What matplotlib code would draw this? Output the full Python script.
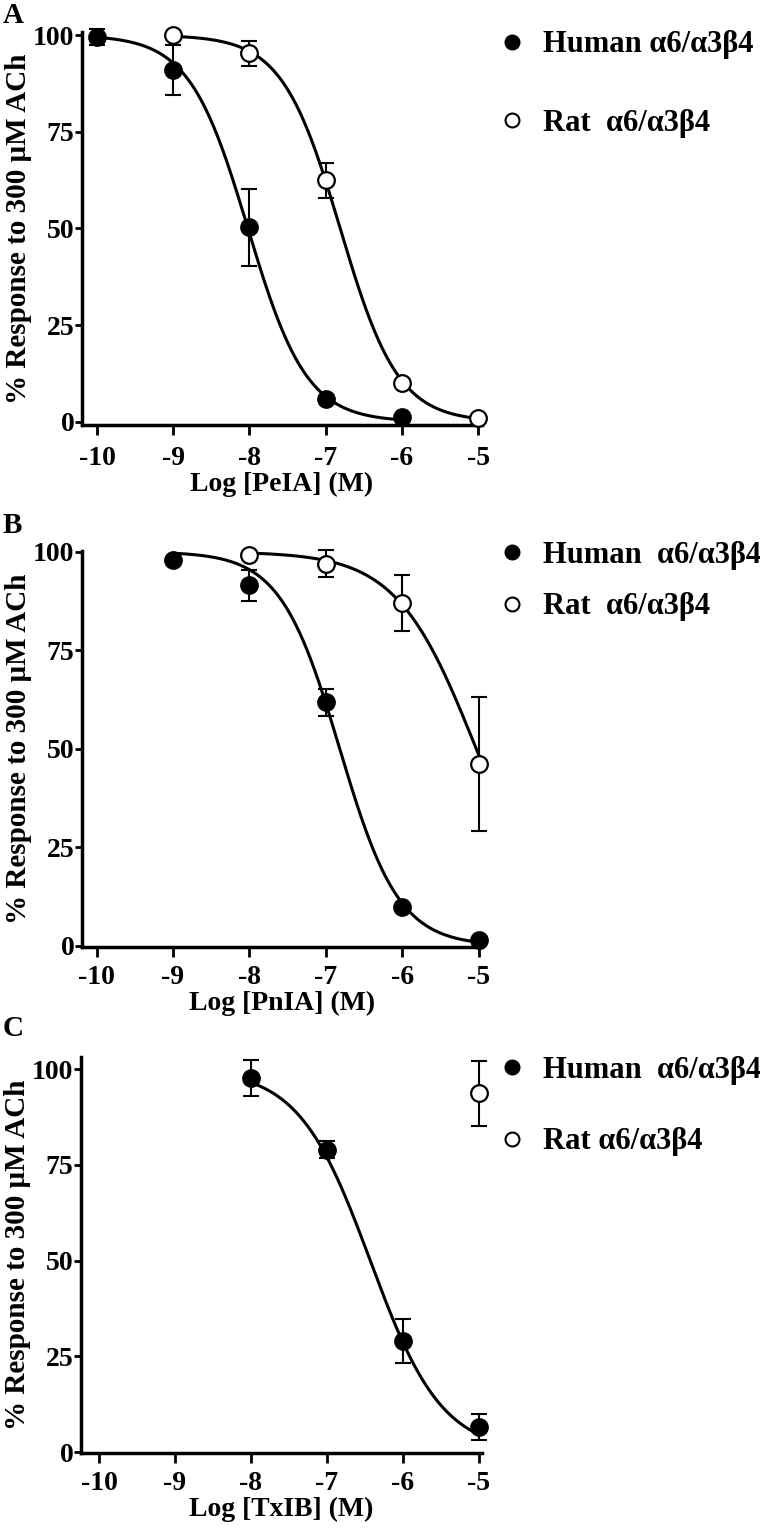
import numpy as np
import matplotlib
matplotlib.use('Agg')
import matplotlib.pyplot as plt
from matplotlib.lines import Line2D

plt.rcParams['font.family'] = ['Liberation Serif', 'DejaVu Serif']
plt.rcParams['font.weight'] = 'bold'
plt.rcParams['font.size'] = 20
plt.rcParams['axes.unicode_minus'] = False

# Panel A - PeIA
a_human_x = [-10, -9, -8, -7, -6]
a_human_y = [99.5, 91.0, 50.3, 6.0, 1.2]
a_human_err = [2.0, 6.5, 10.0, 0.0, 0.0]
a_rat_x = [-9, -8, -7, -6, -5]
a_rat_y = [100.0, 95.3, 62.5, 10.0, 1.0]
a_rat_err = [0.0, 3.3, 4.5, 0.0, 0.0]
a_fit = {'human': (-8.02, 1.13), 'rat': (-6.81, 1.14)}  # logIC50, Hill slope

# Panel B - PnIA
b_human_x = [-9, -8, -7, -6, -5]
b_human_y = [98.0, 91.5, 61.8, 9.8, 1.5]
b_human_err = [0.0, 4.0, 3.4, 0.0, 0.0]
b_rat_x = [-8, -7, -6, -5]
b_rat_y = [99.3, 97.0, 87.0, 46.2]
b_rat_err = [0.0, 3.4, 7.0, 17.0]
b_fit = {'human': (-6.82, 1.12), 'rat': (-5.035, 0.836)}

# Panel C - TxIB
c_human_x = [-8, -7, -6, -5]
c_human_y = [97.8, 79.0, 29.0, 6.5]
c_human_err = [4.7, 2.3, 5.8, 3.4]
c_rat_x = [-5]
c_rat_y = [93.7]
c_rat_err = [8.5]
c_fit = {'human': (-6.43, 0.92)}

panels = [
    dict(tag='A', tag_y=23, xlabel='Log [PeIA] (M)', pos=[0.1079, 0.7219, 0.5263, 0.2574],
         xlim=(-10.197, -4.95), ylim=(-0.8, 100.9), xpad=8,
         human=(a_human_x, a_human_y, a_human_err), rat=(a_rat_x, a_rat_y, a_rat_err), fit=a_fit,
         labels=['Human \u03b16/\u03b13\u03b24', 'Rat  \u03b16/\u03b13\u03b24'],
         leg_y=84, spacing=1.62),
    dict(tag='B', tag_y=533, xlabel='Log [PnIA] (M)', pos=[0.1079, 0.3802, 0.5263, 0.2592],
         xlim=(-10.19, -4.96), ylim=(-0.3, 100.2), xpad=6,
         human=(b_human_x, b_human_y, b_human_err), rat=(b_rat_x, b_rat_y, b_rat_err), fit=b_fit,
         labels=['Human  \u03b16/\u03b13\u03b24', 'Rat  \u03b16/\u03b13\u03b24'],
         leg_y=581, spacing=0.735),
    dict(tag='C', tag_y=1036, xlabel='Log [TxIB] (M)', pos=[0.1066, 0.0491, 0.5276, 0.2594],
         xlim=(-10.237, -4.96), ylim=(-0.2, 103.3), xpad=6,
         human=(c_human_x, c_human_y, c_human_err), rat=(c_rat_x, c_rat_y, c_rat_err), fit=c_fit,
         labels=['Human  \u03b16/\u03b13\u03b24', 'Rat \u03b16/\u03b13\u03b24'],
         leg_y=1106, spacing=1.39),
]


def hill(x, logic50, n):
    return 100.0 / (1.0 + 10 ** ((x - logic50) * n))


fig = plt.figure(figsize=(7.6, 15.28), dpi=100)
H = 1528.0

for p in panels:
    ax = fig.add_axes(p['pos'])

    # đường fit
    for key, data in (('human', p['human']), ('rat', p['rat'])):
        if key in p['fit']:
            xs = np.linspace(min(data[0]), max(data[0]), 300)
            ax.plot(xs, hill(xs, *p['fit'][key]), color='black', lw=2.2, zorder=2, clip_on=False)

    hx, hy, he = p['human']
    ax.errorbar(hx, hy, yerr=he, fmt='none', ecolor='black', elinewidth=1.5,
                capsize=6, capthick=1.5, zorder=3, clip_on=False)
    ax.plot(hx, hy, 'o', ms=12, mfc='black', mec='black', mew=1.5, zorder=4, clip_on=False)

    rx, ry, re = p['rat']
    ax.errorbar(rx, ry, yerr=re, fmt='none', ecolor='black', elinewidth=1.5,
                capsize=6, capthick=1.5, zorder=3, clip_on=False)
    ax.plot(rx, ry, 'o', ms=12, mfc='white', mec='black', mew=1.6, zorder=4, clip_on=False)

    ax.set_xlim(*p['xlim'])
    ax.set_ylim(*p['ylim'])
    ax.set_xticks([-10, -9, -8, -7, -6, -5])
    ax.set_yticks([0, 25, 50, 75, 100])
    ax.spines['top'].set_visible(False)
    ax.spines['right'].set_visible(False)
    for s in ('left', 'bottom'):
        ax.spines[s].set_linewidth(2.5)
    ax.tick_params(axis='x', direction='out', length=7, width=2, pad=p['xpad'], labelsize=20)
    ax.tick_params(axis='y', direction='out', length=5, width=2, pad=0.5, labelsize=20)
    for lab in ax.get_xticklabels() + ax.get_yticklabels():
        lab.set_fontweight('bold')
    ax.set_xlabel(p['xlabel'], fontsize=20, fontweight='bold', labelpad=0.5)
    ax.set_ylabel('% Response to 300 \u03bcM ACh', fontsize=21, fontweight='bold', labelpad=1)

    handles = [
        Line2D([], [], ls='none', marker='o', ms=10, mfc='black', mec='black', mew=1.5),
        Line2D([], [], ls='none', marker='o', ms=10, mfc='white', mec='black', mew=1.5),
    ]
    ax.legend(handles, p['labels'], loc='center left', frameon=False,
              bbox_to_anchor=(497 / 760, 1 - p['leg_y'] / H), bbox_transform=fig.transFigure,
              borderaxespad=0, borderpad=0, handlelength=1.0, handletextpad=0.5,
              labelspacing=p['spacing'], prop={'size': 22, 'weight': 'bold'})

    fig.text(0.004, 1 - p['tag_y'] / H, p['tag'], fontsize=21,
             fontweight='bold', ha='left', va='baseline')

fig.savefig('out.png', dpi=100, facecolor='white')
